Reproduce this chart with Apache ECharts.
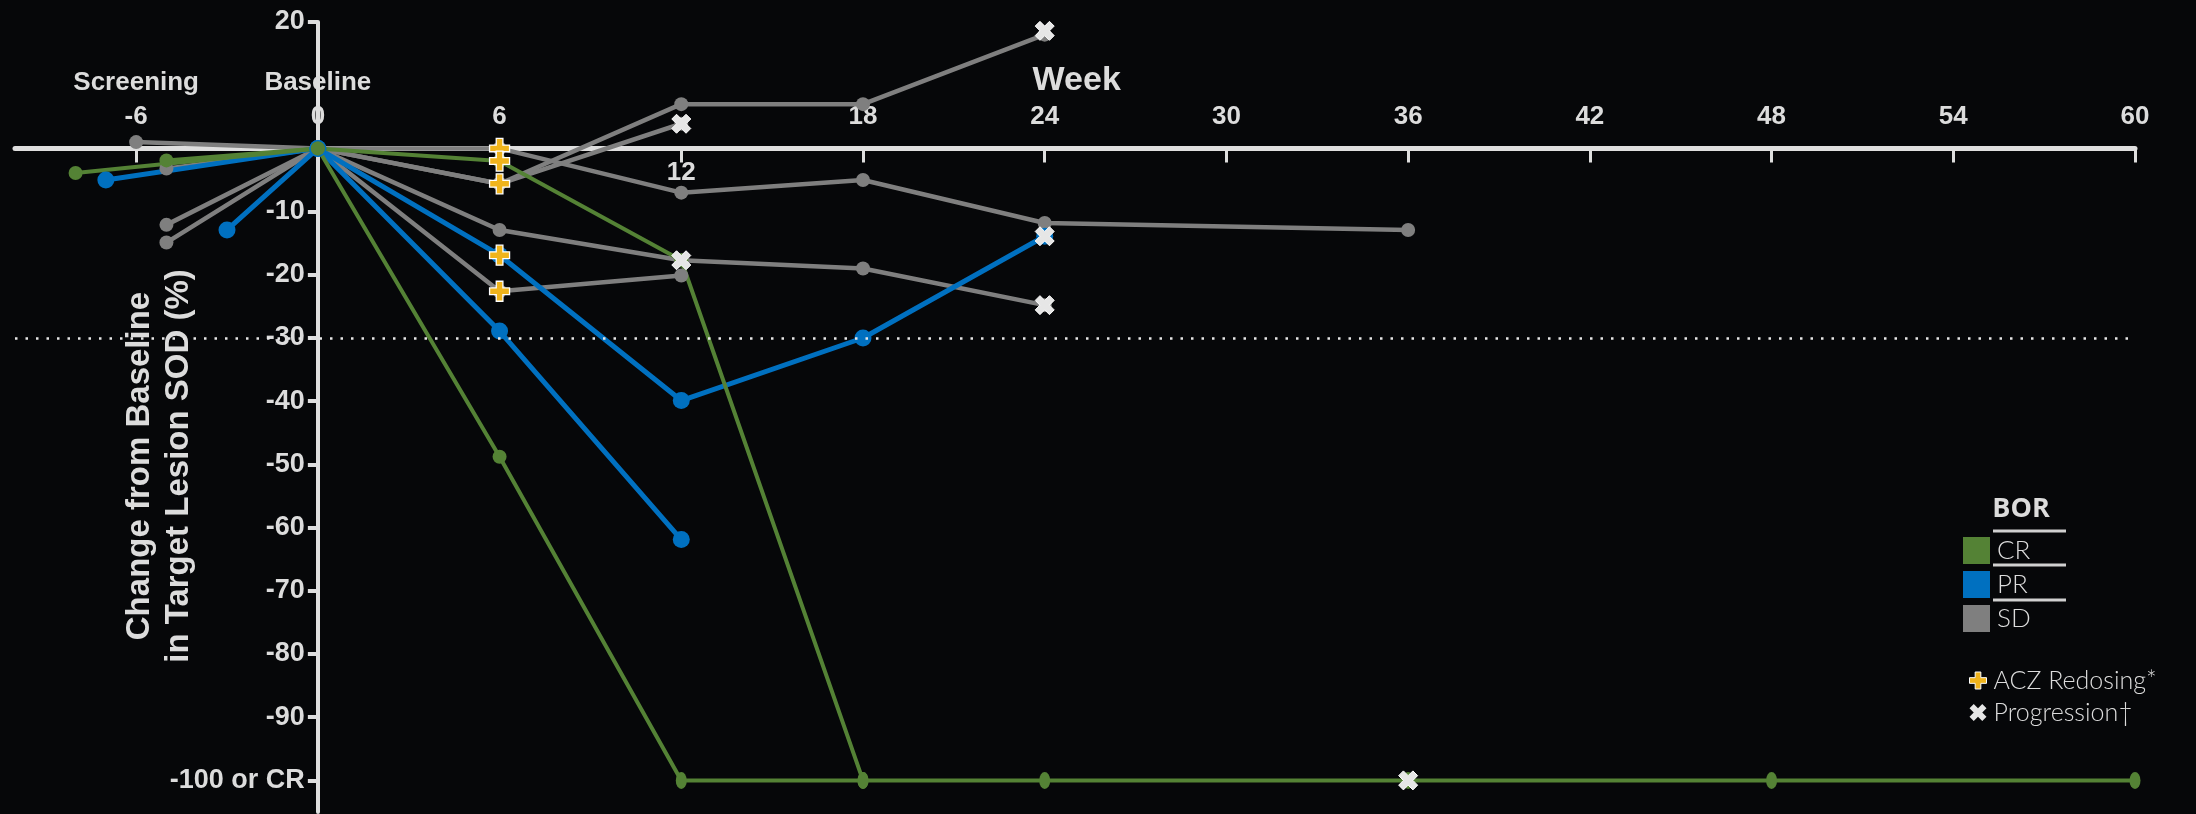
<!DOCTYPE html>
<html>
<head>
    <meta charset="utf-8"/>
    <title>Change from Baseline in Target Lesion SOD</title>
    <script src="https://cdn.jsdelivr.net/npm/echarts@6/dist/echarts.min.js"></script>
    <style>
        html, body { margin: 0; padding: 0; background: #060709; }
        #main { width: 2196px; height: 814px; }
    </style>
</head>
<body>
<div id="main"></div>
<script>
    // ---- data: [week, % change from baseline] ----
    // CR patients
    var cr1 = [[-5, -1.9], [0, 0], [6, -48.8], [12, -100], [18, -100], [24, -100], [36, -100], [48, -100], [60, -100]];
    var cr2 = [[-8, -3.9], [0, 0], [6, -2], [12, -17.7], [18, -100]];
    // PR patients
    var pr1 = [[-7, -5], [0, 0], [6, -16.9], [12, -39.9], [18, -30], [24, -13.9]];
    var pr2 = [[-3, -12.9], [0, 0], [6, -28.9], [12, -61.9]];
    // SD patients
    var sd1 = [[-6, 1], [0, 0], [6, 0], [12, -7], [18, -5], [24, -11.8], [36, -12.9]];
    var sd2 = [[-5, -12.1], [0, 0], [6, -5.6], [12, 7], [18, 7], [24, 18]];
    var sd3 = [[-5, -14.9], [0, 0], [6, -5.6], [12, 3.9]];
    var sd4 = [[-5, -3.2], [0, 0], [6, -12.9], [12, -17.7], [18, -19], [24, -24.8]];
    var sd5 = [[0, 0], [6, -22.6], [12, -20.1]];

    // event markers
    var redosing = [[6, 0], [6, -2], [6, -5.6], [6, -16.9], [6, -22.6]];
    var progression = [[24, 18.6], [12, 3.9], [12, -17.7], [24, -13.9], [24, -24.8], [36, -100]];

    // axis ticks / labels
    var weekTicks = [-6, 6, 12, 18, 24, 30, 36, 42, 48, 54, 60];
    var weekLabelsAbove = [-6, 0, 6, 18, 24, 30, 36, 42, 48, 54, 60];
    var weekLabelsBelow = [12];
    var pctTicks = [20, -10, -20, -30, -40, -50, -60, -70, -80, -90, -100];
    var responseLine = -30;

    var X_MIN = -10, X_MAX = 60, Y_MIN = -105, Y_MAX = 20;
    var GRID = { left: 15, right: 61, top: 22, bottom: 2 };
    var W = 2196, H = 814;
    // the axes cross at (0, 0): shift them into the plot with offset
    var gridW = W - GRID.left - GRID.right, gridH = H - GRID.top - GRID.bottom;
    var xAxisShift = -gridH * (Y_MAX - 0) / (Y_MAX - Y_MIN);
    var yAxisShift = -gridW * (0 - X_MIN) / (X_MAX - X_MIN);

    var GREEN = '#548235', BLUE = '#0070c0', GREY = '#7f7f7f';
    var TXT = '#dcdcdc', AXIS = '#dedede';
    var plusPath = 'path://M-1,-3 L1,-3 L1,-1 L3,-1 L3,1 L1,1 L1,3 L-1,3 L-1,1 L-3,1 L-3,-1 L-1,-1 Z';
    var crossPath = 'path://M2,-4 L4,-2 L2,0 L4,2 L2,4 L0,2 L-2,4 L-4,2 L-2,0 L-4,-2 L-2,-4 L0,-2 Z';
    var boldFont = '"Liberation Sans", Arial, sans-serif';
    var legendFont = 'Lato, "Open Sans", sans-serif';

    function patientLine(name, color, data, width, size) {
        return {
            name: name,
            type: 'line',
            data: data,
            symbol: 'circle',
            symbolSize: size,
            showAllSymbol: true,
            lineStyle: { color: color, width: width },
            itemStyle: { color: color },
            emphasis: { disabled: true }
        };
    }

    var crSize = function (v) { return v[1] <= -100 ? [11, 17] : 14; };

    var numRich = {
        s: { fontSize: 26, fontWeight: 'bold', fontFamily: boldFont, color: TXT, lineHeight: 38 },
        n: { fontSize: 26, fontWeight: 'bold', fontFamily: boldFont, color: TXT, lineHeight: 30 },
        w: { fontSize: 34, fontWeight: 'bold', fontFamily: boldFont, color: TXT, lineHeight: 42, padding: [0, 0, 0, 64] }
    };

    var myChart = echarts.init(document.getElementById('main'));
    var option = {
        backgroundColor: '#060709',
        animation: false,
        grid: { left: GRID.left, right: GRID.right, top: GRID.top, bottom: GRID.bottom, containLabel: false, outerBoundsMode: 'none' },
        xAxis: [{
            type: 'value', min: X_MIN, max: X_MAX, position: 'top', offset: xAxisShift,
            axisLine: { onZero: false, lineStyle: { color: AXIS, width: 5, cap: 'round' } },
            axisTick: { customValues: weekTicks, inside: true, length: 14, lineStyle: { color: AXIS, width: 3 } },
            splitLine: { show: false },
            axisLabel: {
                customValues: weekLabelsAbove, margin: 17,
                color: TXT, fontFamily: boldFont, fontWeight: 'bold', fontSize: 26,
                formatter: function (v) {
                    if (v === -6) return '{s|Screening}\n{n|-6}';
                    if (v === 0) return '{s|Baseline}\n{n|0}';
                    if (v === 24) return '{w|Week}\n{n|24}';
                    return '{n|' + v + '}';
                },
                rich: numRich
            }
        }, {
            type: 'value', min: X_MIN, max: X_MAX, position: 'top', offset: xAxisShift,
            axisLine: { show: false, onZero: false },
            axisTick: { show: false },
            splitLine: { show: false },
            axisLabel: {
                customValues: weekLabelsBelow, inside: true, margin: 9,
                formatter: function (v) { return '{n|' + v + '}'; },
                rich: numRich
            }
        }],
        yAxis: {
            type: 'value', min: Y_MIN, max: Y_MAX, position: 'left', offset: yAxisShift,
            axisLine: { show: true, onZero: false, lineStyle: { color: AXIS, width: 4 } },
            axisTick: { show: true, customValues: pctTicks, length: 10, lineStyle: { color: AXIS, width: 4 } },
            splitLine: { show: false },
            axisLabel: {
                customValues: pctTicks, margin: 13,
                color: TXT, fontFamily: boldFont, fontWeight: 'bold', fontSize: 27,
                formatter: function (v) { return v === -100 ? '-100 or CR' : v; }
            }
        },
        legend: [{
            data: ['CR', 'PR', 'SD'],
            orient: 'vertical', left: 1958, top: 532,
            icon: 'rect', itemWidth: 27, itemHeight: 27, itemGap: 7,
            selectedMode: false,
            textStyle: { color: TXT, fontSize: 26, fontWeight: 300, fontFamily: legendFont, padding: [0, 0, 0, 2] }
        }, {
            data: [
                { name: 'ACZ Redosing*', icon: plusPath, itemStyle: { color: '#f0b41c', borderColor: '#ffffff', borderWidth: 1 } },
                { name: 'Progression†', icon: crossPath, itemStyle: { color: '#e6e6e6', borderWidth: 0 } }
            ],
            orient: 'vertical', left: 1964, top: 663,
            itemWidth: 17, itemHeight: 17, itemGap: 7,
            selectedMode: false,
            textStyle: { color: TXT, fontSize: 25, fontWeight: 300, fontFamily: legendFont, padding: [0, 0, 0, 2] }
        }],
        graphic: [
            {
                type: 'text', x: 159, y: 466, rotation: Math.PI / 2,
                style: {
                    text: 'Change from Baseline\nin Target Lesion SOD (%)',
                    fill: TXT, font: 'bold 33px "Liberation Sans", Arial, sans-serif',
                    align: 'center', verticalAlign: 'middle', lineHeight: 39
                }
            },
            {
                type: 'text', x: 2021, y: 509,
                style: { text: 'BOR', fill: TXT, font: 'bold 27px "Open Sans", Lato, sans-serif', align: 'center', verticalAlign: 'middle' }
            },
            { type: 'line', shape: { x1: 1993, y1: 531, x2: 2066, y2: 531 }, style: { stroke: '#d0d0d0', lineWidth: 3 } },
            { type: 'line', shape: { x1: 1993, y1: 565, x2: 2066, y2: 565 }, style: { stroke: '#d0d0d0', lineWidth: 3 } },
            { type: 'line', shape: { x1: 1993, y1: 600, x2: 2066, y2: 600 }, style: { stroke: '#d0d0d0', lineWidth: 3 } }
        ],
        series: [
            {
                type: 'line', data: [], silent: true,
                markLine: {
                    silent: true, symbol: 'none', label: { show: false },
                    lineStyle: { color: '#e8e8e8', width: 2.5, type: [2.5, 8] },
                    data: [{ yAxis: responseLine }]
                }
            },
            patientLine('SD', GREY, sd1, 4.5, 14),
            patientLine('SD', GREY, sd2, 4.5, 14),
            patientLine('SD', GREY, sd3, 4.5, 14),
            patientLine('SD', GREY, sd4, 4.5, 14),
            patientLine('SD', GREY, sd5, 4.5, 14),
            patientLine('PR', BLUE, pr1, 5, 17),
            patientLine('PR', BLUE, pr2, 5, 17),
            patientLine('CR', GREEN, cr2, 4, crSize),
            patientLine('CR', GREEN, cr1, 4, crSize),
            {
                name: 'ACZ Redosing*', type: 'scatter', data: redosing, z: 5,
                symbol: plusPath, symbolSize: 20,
                itemStyle: { color: '#f0b41c', borderColor: '#ffffff', borderWidth: 1.3, opacity: 1 }
            },
            {
                name: 'Progression†', type: 'scatter', data: progression, z: 5,
                symbol: crossPath, symbolSize: 19,
                itemStyle: { color: '#e6e6e6', borderColor: '#ffffff', borderWidth: 1, opacity: 1 }
            }
        ]
    };
    myChart.setOption(option);

    window.onresize = function () {
        myChart.resize();
    };
</script>
</body>
</html>
